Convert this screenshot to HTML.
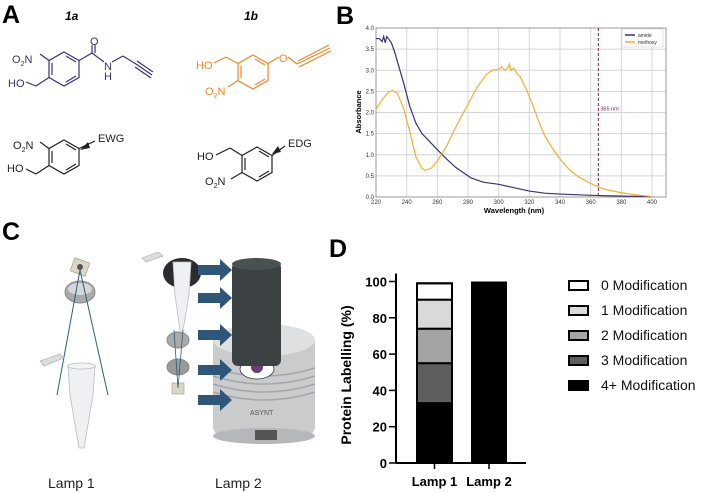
<!DOCTYPE html>
<html><head><meta charset="utf-8">
<style>
html,body{margin:0;padding:0;background:#fff;}
svg{display:block;font-family:"Liberation Sans",Arial,sans-serif;}
</style></head>
<body>
<svg id="fig" width="709" height="493" viewBox="0 0 709 493" xmlns="http://www.w3.org/2000/svg">
<!-- Panel letters -->
<text x="2" y="23" font-size="25" font-weight="bold">A</text>
<text x="336" y="24" font-size="25" font-weight="bold">B</text>
<text x="2" y="240" font-size="25" font-weight="bold">C</text>
<text x="329" y="257" font-size="25" font-weight="bold">D</text>

<!-- Panel A -->
<g font-size="11">
<text x="65" y="20" font-size="12" font-weight="bold" font-style="italic">1a</text>
<text x="244" y="20" font-size="12" font-weight="bold" font-style="italic">1b</text>
<!-- 1a -->
<g stroke="#3b3175" fill="none" stroke-width="1.2">
<polygon points="64,52 79,60.5 79,77.5 64,86 49,77.5 49,60.5"/>
<line x1="52" y1="63" x2="52" y2="75"/><line x1="66" y1="82" x2="76" y2="76"/><line x1="66" y1="56" x2="76" y2="62"/>
<line x1="49" y1="60.5" x2="40" y2="54"/><line x1="49" y1="77.5" x2="36" y2="86"/><line x1="36" y1="86" x2="26" y2="82"/>
<line x1="79" y1="60.5" x2="92" y2="53"/><line x1="92" y1="53" x2="92" y2="45"/><line x1="95" y1="53" x2="95" y2="45"/>
<line x1="92" y1="53" x2="104" y2="62"/><line x1="112" y1="62" x2="123" y2="56"/><line x1="123" y1="56" x2="136" y2="64"/>
<line x1="136" y1="64" x2="152" y2="75"/><line x1="137" y1="61" x2="153" y2="72"/><line x1="135" y1="67" x2="151" y2="78"/>
</g>
<g fill="#3b3175">
<text x="12" y="63">O<tspan font-size="7" dy="3">2</tspan><tspan dy="-3">N</tspan></text>
<text x="8" y="87">HO</text><text x="90" y="45">O</text><text x="104" y="70">N</text><text x="104" y="80">H</text>
</g>
<!-- 1b -->
<g stroke="#e8882a" fill="none" stroke-width="1.2">
<polygon points="253,55 268,63.5 268,80.5 253,89 238,80.5 238,63.5"/>
<line x1="241" y1="66" x2="241" y2="78"/><line x1="255" y1="85" x2="265" y2="79"/><line x1="255" y1="59" x2="265" y2="65"/>
<line x1="238" y1="63.5" x2="226" y2="57"/><line x1="226" y1="57" x2="214" y2="63"/>
<line x1="238" y1="80.5" x2="228" y2="87"/>
<line x1="268" y1="63.5" x2="279" y2="57"/><line x1="288" y1="57" x2="297" y2="64"/>
<line x1="297" y1="64" x2="330" y2="48"/><line x1="298" y1="61" x2="329" y2="45"/><line x1="299" y1="67" x2="331" y2="51"/>
</g>
<g fill="#e8882a">
<text x="196" y="69">HO</text>
<text x="205" y="95">O<tspan font-size="7" dy="3">2</tspan><tspan dy="-3">N</tspan></text>
<text x="279" y="62">O</text>
</g>
<!-- EWG -->
<g stroke="#222" fill="none" stroke-width="1.2">
<polygon points="64,140 79,148.5 79,165.5 64,174 49,165.5 49,148.5"/>
<line x1="52" y1="151" x2="52" y2="163"/><line x1="66" y1="170" x2="76" y2="164"/><line x1="66" y1="144" x2="76" y2="150"/>
<line x1="49" y1="148.5" x2="40" y2="142"/><line x1="49" y1="165.5" x2="36" y2="174"/><line x1="36" y1="174" x2="26" y2="169"/>
<line x1="79" y1="148.5" x2="95" y2="141"/>
</g>
<polygon points="80,150 88,142 90,148" fill="#222"/>
<g fill="#222">
<text x="13" y="149">O<tspan font-size="7" dy="3">2</tspan><tspan dy="-3">N</tspan></text>
<text x="7" y="172">HO</text><text x="98" y="142">EWG</text>
</g>
<!-- EDG -->
<g stroke="#222" fill="none" stroke-width="1.2">
<polygon points="257,147 272,155.5 272,172.5 257,181 242,172.5 242,155.5"/>
<line x1="245" y1="158" x2="245" y2="170"/><line x1="259" y1="177" x2="269" y2="171"/><line x1="259" y1="151" x2="269" y2="157"/>
<line x1="242" y1="155.5" x2="230" y2="148"/><line x1="230" y1="148" x2="216" y2="155"/>
<line x1="242" y1="172.5" x2="231" y2="179"/>
<line x1="272" y1="155.5" x2="285" y2="146"/>
</g>
<polygon points="272,154 278,146 281,152" fill="#222"/>
<g fill="#222">
<text x="197" y="160">HO</text>
<text x="205" y="185">O<tspan font-size="7" dy="3">2</tspan><tspan dy="-3">N</tspan></text>
<text x="288" y="147">EDG</text>
</g>
</g>

<!-- Panel B chart -->
<g id="chartB"></g>

<!-- Panel C -->
<g>
<g>
<rect x="72" y="260" width="16" height="14" fill="#ddd6c4" stroke="#999" stroke-width="0.6" transform="rotate(20 80 267)"/>
<circle cx="80" cy="267" r="3" fill="#555"/>
<ellipse cx="80" cy="292" rx="15" ry="11" fill="#aaa" stroke="#888"/>
<ellipse cx="80" cy="289" rx="12" ry="6" fill="#d8d8d8"/>
<line x1="80" y1="270" x2="57" y2="395" stroke="#2b5f7a" stroke-width="1"/>
<line x1="80" y1="270" x2="108" y2="395" stroke="#2b5f7a" stroke-width="1"/>
<path d="M40 361 L60 354 L64 358 L44 366 Z" fill="#ddd" stroke="#aaa" stroke-width="0.6"/>
<path d="M68 366 L95 366 L93 395 L84 448 L79 448 L70 395 Z" fill="#eef0f4" stroke="#bbb" stroke-width="0.8"/>
<ellipse cx="81.5" cy="366" rx="14" ry="3" fill="#f4f4f4" stroke="#bbb" stroke-width="0.8"/>
</g>
<g>
<path d="M142 258 L158 252 L163 256 L146 262 Z" fill="#ddd" stroke="#aaa" stroke-width="0.6"/>
<ellipse cx="182" cy="273" rx="19" ry="15" fill="#2c2c30"/>
<path d="M173 262 L191 262 L189 295 L183 330 L180 330 L175 295 Z" fill="#eef0f4" stroke="#bbb" stroke-width="0.8"/>
<ellipse cx="178" cy="340" rx="11" ry="8" fill="#aaa" stroke="#888"/>
<ellipse cx="178" cy="367" rx="11" ry="8" fill="#999" stroke="#888"/>
<rect x="172" y="383" width="12" height="11" fill="#ddd6c4" stroke="#999" stroke-width="0.6"/>
<line x1="178" y1="388" x2="183" y2="330" stroke="#2b5f7a" stroke-width="0.8"/>
<line x1="178" y1="388" x2="174" y2="330" stroke="#2b5f7a" stroke-width="0.8"/>
<rect x="213" y="335" width="102" height="100" rx="8" fill="#c9cbcd"/>
<ellipse cx="264" cy="436" rx="51" ry="8" fill="#b5b7ba"/>
<ellipse cx="264" cy="340" rx="51" ry="16" fill="#dfe0e2"/>
<g stroke="#a4a6a9" stroke-width="1.5" fill="none">
<path d="M213 368 Q264 384 315 368"/><path d="M213 376 Q264 392 315 376"/><path d="M213 384 Q264 400 315 384"/><path d="M213 392 Q264 408 315 392"/>
</g>
<rect x="255" y="430" width="22" height="10" fill="#555"/>
<text x="250" y="415" font-size="7" fill="#555">ASYNT</text>
<ellipse cx="257" cy="369" rx="17" ry="10" fill="#fff" stroke="#333" stroke-width="0.8"/>
<circle cx="257" cy="367" r="6" fill="#6b3b7a"/>
<rect x="232" y="262" width="49" height="104" rx="6" fill="#3c4244"/>
<ellipse cx="256.5" cy="264" rx="24.5" ry="6" fill="#4a5153"/>
<g fill="#2f5578">
<path d="M198 265 h22 v-6 l12 11 l-12 11 v-6 h-22 Z"/>
<path d="M198 293 h22 v-6 l12 11 l-12 11 v-6 h-22 Z"/>
<path d="M198 330 h22 v-6 l12 11 l-12 11 v-6 h-22 Z"/>
<path d="M198 365 h22 v-6 l12 11 l-12 11 v-6 h-22 Z"/>
<path d="M198 395 h22 v-6 l12 11 l-12 11 v-6 h-22 Z"/>
</g>
</g>
<text x="48" y="488" font-size="14" fill="#222">Lamp 1</text>
<text x="215" y="488" font-size="14" fill="#222">Lamp 2</text>
</g>

<!-- Panel D chart -->
<g id="chartD"></g>
</svg>
<script>
// ---- Panel B data ----
const amideWl = [220,222,224,225,226,227,228,230,232,234,238,242,246,250,254,260,266,272,278,282,290,300,310,320,330,340,360,380,400];
const amideAbs = [3.75,3.75,3.68,3.8,3.65,3.8,3.75,3.65,3.45,3.2,2.7,2.15,1.75,1.5,1.35,1.12,0.9,0.7,0.55,0.45,0.35,0.3,0.22,0.14,0.09,0.07,0.04,0.02,0.01];
const methoxyWl = [220,224,228,231,234,238,242,246,250,252,256,260,266,272,280,286,292,296,300,302,304,306,307,308,310,312,314,318,322,326,330,336,340,346,352,360,366,372,380,390,400];
const methoxyAbs = [2.08,2.3,2.48,2.52,2.45,2.1,1.55,0.95,0.68,0.63,0.68,0.85,1.2,1.65,2.2,2.6,2.9,3.0,3.02,3.08,3.0,3.05,3.15,3.0,3.05,2.92,2.85,2.55,2.2,1.8,1.45,1.1,0.9,0.65,0.48,0.32,0.22,0.16,0.1,0.05,0.01];
const xTicksB = [220,240,260,280,300,320,340,360,380,400];
const yTicksB = [0,0.5,1.0,1.5,2.0,2.5,3.0,3.5,4.0];
const markerWl = [365];
// ---- Panel D data ----
const lampCats = ["Lamp 1","Lamp 2"];
const modNames = ["4+ Modification","3 Modification","2 Modification","1 Modification","0 Modification"];
const lamp1Vals = [33,22,19,16,9];
const lamp2Vals = [100,0,0,0,0];
const yTicksD = [0,20,40,60,80,100];

const NS = "http://www.w3.org/2000/svg";
function mk(tag, attrs, parent){const e=document.createElementNS(NS,tag);for(const k in attrs)e.setAttribute(k,attrs[k]);parent.appendChild(e);return e;}

// Chart B
(function(){
  const g=document.getElementById('chartB');
  const x0=376,x1=652,yb=197,yt=28,fr=666;
  const sx=v=>x0+(v-220)*(x1-x0)/180;
  const sy=v=>yb-(v/4)*(yb-yt);
  mk('rect',{x:x0,y:yt,width:fr-x0,height:yb-yt,fill:'#fff'},g);
  xTicksB.forEach(t=>{
    const l=mk('line',{x1:sx(t),x2:sx(t),y1:yt,y2:yb,stroke:'#d4d4dc','stroke-width':1},g);
    
    
    const tx=mk('text',{x:sx(t),y:yb+7,'font-size':6,'text-anchor':'middle',fill:'#333'},g);
    tx.textContent=t;
    
    
  });
  yTicksB.forEach(t=>{
    const l=mk('line',{x1:x0,x2:fr,y1:sy(t),y2:sy(t),stroke:'#d4d4dc','stroke-width':1},g);
    
    
    const tx=mk('text',{x:x0-2,y:sy(t)+2,'font-size':6,'text-anchor':'end',fill:'#333'},g);
    tx.textContent=t.toFixed(1);
    
    
  });
  mk('rect',{x:x0,y:yt,width:fr-x0,height:yb-yt,fill:'none',stroke:'#999','stroke-width':1},g);
  const a=mk('polyline',{points:amideWl.map((w,i)=>sx(w)+','+sy(amideAbs[i])).join(' '),fill:'none',stroke:'#3a336e','stroke-width':1.2},g);
  
  
  const m=mk('polyline',{points:methoxyWl.map((w,i)=>sx(w)+','+sy(methoxyAbs[i])).join(' '),fill:'none',stroke:'#f0b030','stroke-width':1.2},g);
  
  
  markerWl.forEach(w=>{
    const d=mk('line',{x1:sx(w),x2:sx(w),y1:yt,y2:yb,stroke:'#7a2050','stroke-width':1,'stroke-dasharray':'3,2'},g);
    
    
    const t=mk('text',{x:sx(w)+2,y:sy(2.05),'font-size':5.5,fill:'#7a2050'},g);
    t.textContent=w+' nm';
    
    
  });
  const lg=mk('g',{},g);
  
  
  mk('rect',{x:622,y:29,width:41,height:18,fill:'#fff',stroke:'#ccc','stroke-width':0.6},lg);
  mk('line',{x1:625,x2:635,y1:35,y2:35,stroke:'#3a336e','stroke-width':1.5},lg);
  mk('line',{x1:625,x2:635,y1:42,y2:42,stroke:'#f0b030','stroke-width':1.5},lg);
  const t1=mk('text',{x:638,y:37,'font-size':5,fill:'#333'},lg);t1.textContent='amide';
  const t2=mk('text',{x:638,y:44,'font-size':5,fill:'#333'},lg);t2.textContent='methoxy';
  const xt=mk('text',{x:(x0+x1)/2,y:213,'font-size':7.5,'font-weight':'bold','text-anchor':'middle'},g);
  xt.textContent='Wavelength (nm)';
  
  
  const yt2=mk('text',{x:0,y:0,'font-size':7.5,'font-weight':'bold','text-anchor':'middle',transform:'translate(361 112) rotate(-90)'},g);
  yt2.textContent='Absorbance';
  
  
})();

// Chart D
(function(){
  const g=document.getElementById('chartD');
  const ax=396,yb=463,yt=281.5,xe=526;
  const sy=v=>yb-v*(yb-yt)/100;
  const fills=['#000','#5e5e5e','#a3a3a3','#d9d9d9','#fff'];
  const barX=[417,471],barW=[35,36];
  [lamp1Vals,lamp2Vals].forEach((vals,bi)=>{
    let acc=0;
    vals.forEach((v,si)=>{
      if(v<=0)return;
      const r=mk('rect',{x:barX[bi],y:sy(acc+v),width:barW[bi],height:sy(acc)-sy(acc+v),fill:fills[si],stroke:'#000','stroke-width':si===0?0:2},g);
      
      
      acc+=v;
    });
    if(bi===0){mk('rect',{x:barX[0],y:sy(acc),width:barW[0],height:yb-sy(acc),fill:'none',stroke:'#000','stroke-width':2},g);}
    const tk=mk('line',{x1:barX[bi]+barW[bi]/2,x2:barX[bi]+barW[bi]/2,y1:yb,y2:yb+6,stroke:'#000','stroke-width':1.5},g);
    const lb=mk('text',{x:barX[bi]+barW[bi]/2,y:yb+23,'font-size':13,'font-weight':'bold','text-anchor':'middle'},g);
    lb.textContent=lampCats[bi];
    
    
  });
  mk('line',{x1:ax,x2:ax,y1:yt-8,y2:yb,stroke:'#000','stroke-width':2},g);
  mk('line',{x1:ax,x2:xe,y1:yb,y2:yb,stroke:'#000','stroke-width':2},g);
  yTicksD.forEach(t=>{
    mk('line',{x1:ax-7,x2:ax,y1:sy(t),y2:sy(t),stroke:'#000','stroke-width':1.5},g);
    const tx=mk('text',{x:ax-9,y:sy(t)+5,'font-size':13,'font-weight':'bold','text-anchor':'end'},g);
    tx.textContent=t;
    
    
  });
  const yl=mk('text',{x:0,y:0,'font-size':14,'font-weight':'bold','text-anchor':'middle',transform:'translate(351 375) rotate(-90)'},g);
  yl.textContent='Protein  Labelling (%)';
  
  
  const order=[4,3,2,1,0];
  order.forEach((si,i)=>{
    const yy=285+i*25;
    const r=mk('rect',{x:569,y:yy-4,width:19,height:9,fill:fills[si],stroke:'#000','stroke-width':2},g);
    
    
    const t=mk('text',{x:601,y:yy+5,'font-size':14,fill:'#111'},g);
    t.textContent=modNames[si];
    
    
  });
})();
</script>
</body></html>
